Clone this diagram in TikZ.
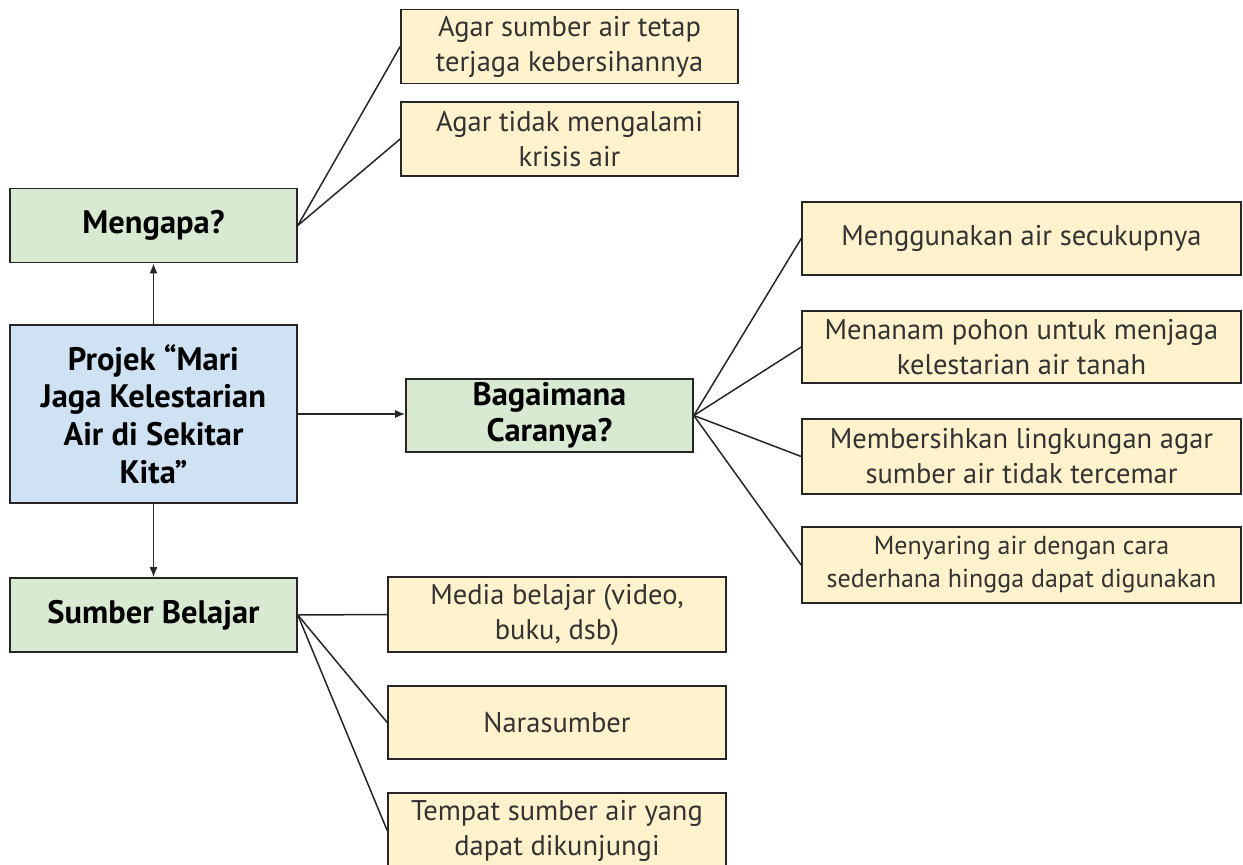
\documentclass[tikz,border=0pt]{standalone}
\usepackage{fontspec}
\setmainfont{PT Sans}
\usetikzlibrary{arrows.meta}
\definecolor{hijau}{HTML}{D9EAD3}
\definecolor{biru}{HTML}{CFE2F3}
\definecolor{kuning}{HTML}{FFF2CC}

\begin{document}
\begin{tikzpicture}[x=1pt,y=-1pt,
		kotak/.style={draw=black!85,line width=1.6pt,inner sep=0pt,align=center,minimum height=74pt,font=\fontsize{28.5}{35}\selectfont},
		utama/.style={kotak,fill=hijau,minimum width=287pt,font=\bfseries\fontsize{32.5}{36}\selectfont},
		isi/.style={kotak,fill=kuning,text=black!80},
		garis/.style={line width=1.5pt,black!85},
		panah/.style={garis,-{Latex[length=10pt,width=8pt]}}]
				\useasboundingbox (0,0) rectangle (1243,865);
				
				%kotak tengah dan cabang utama
				\node[kotak,fill=biru,minimum width=287pt,minimum height=178pt,font=\bfseries\fontsize{32.5}{37.7}\selectfont] (projek) at (153.5,414) {Projek “Mari\\Jaga Kelestarian\\Air di Sekitar\\Kita”};
				\node[utama] (mengapa) at (153.5,225.5) {Mengapa?};
				\node[utama] (sumber) at (153.5,615) {Sumber Belajar};
				\node[utama,minimum height=73pt] (cara) at (549.5,415.5) {Bagaimana\\Caranya?};
				
				%isi mengapa
				\node[isi,minimum width=337pt] (alasan1) at (569.5,46.5) {Agar sumber air tetap\\terjaga kebersihannya};
				\node[isi,minimum width=337pt] (alasan2) at (569.5,139) {Agar tidak mengalami\\krisis air};
				
				%isi bagaimana caranya
				\node[isi,minimum width=439pt,minimum height=73pt] (cara1) at (1021.5,238.5) {Menggunakan air secukupnya};
				\node[isi,minimum width=439pt,minimum height=72pt] (cara2) at (1021.5,347) {Menanam pohon untuk menjaga\\kelestarian air tanah};
				\node[isi,minimum width=439pt,minimum height=75pt] (cara3) at (1021.5,456.5) {Membersihkan lingkungan agar\\sumber air tidak tercemar};
				\node[isi,minimum width=439pt,minimum height=76pt,font=\fontsize{26}{33}\selectfont] (cara4) at (1021.5,565) {Menyaring air dengan cara\\sederhana hingga dapat digunakan};
				
				%isi sumber belajar
				\node[isi,minimum width=338pt,minimum height=75pt] (media) at (557,614.5) {Media belajar (video,\\buku, dsb)};
				\node[isi,minimum width=338pt,minimum height=73pt] (nara) at (557,722.5) {Narasumber};
				\node[isi,minimum width=338pt,minimum height=75pt] (tempat) at (557,830.5) {Tempat sumber air yang\\dapat dikunjungi};
				
				%panah dari projek
				\draw[panah] (projek.north) -- (mengapa.south);
				\draw[panah] (projek.south) -- (sumber.north);
				\draw[panah] (projek.east) -- (projek.east -| cara.west);
				
				%garis ke isi
				\draw[garis] (mengapa.east) -- (alasan1.west);
				\draw[garis] (mengapa.east) -- (alasan2.west);
				\foreach \i in {1,...,4}
					\draw[garis] (cara.east) -- (cara\i.west);
				\draw[garis] (sumber.east) -- (media.west);
				\draw[garis] (sumber.east) -- (nara.west);
				\draw[garis] (sumber.east) -- (tempat.west);
			\end{tikzpicture}
\end{document}
